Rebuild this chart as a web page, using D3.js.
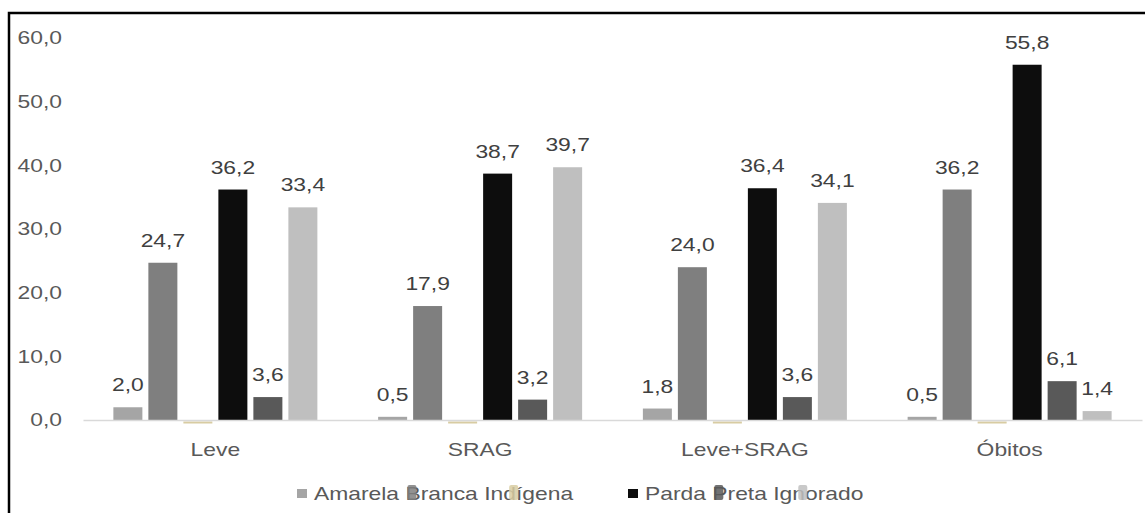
<!DOCTYPE html>
<html>
<head>
<meta charset="utf-8">
<script src="https://cdn.jsdelivr.net/npm/d3@7"></script>
<style>
  html, body { margin: 0; padding: 0; background: #fff; }
  svg { display: block; font-family: "Liberation Sans", Arial, sans-serif; }
</style>
</head>
<body>
<svg id="chart" width="1145" height="513"></svg>
<script>
// Case groups on the x axis
const categories = ["Leve", "SRAG", "Leve+SRAG", "Óbitos"];
// Race/colour series (percent of cases in each group)
const seriesNames = ["Amarela", "Branca", "Indígena", "Parda", "Preta", "Ignorado"];
const amarela  = [2.0, 0.5, 1.8, 0.5];
const branca   = [24.7, 17.9, 24.0, 36.2];
const indigena = [0.0, 0.0, 0.0, 0.0];
const parda    = [36.2, 38.7, 36.4, 55.8];
const preta    = [3.6, 3.2, 3.6, 6.1];
const ignorado = [33.4, 39.7, 34.1, 1.4];
const yTicks   = [0, 10, 20, 30, 40, 50, 60];

const seriesValues = [amarela, branca, indigena, parda, preta, ignorado];
const colors = ["#a5a5a5", "#7f7f7f", "#d8cca2", "#0d0d0d", "#595959", "#bfbfbf"];
const showLabel = [true, true, false, true, true, true];

const fmt = d3.formatLocale({decimal: ",", thousands: ".", grouping: [3], currency: ["R$", ""]}).format(".1f");

const FS = 18;      // font size
const SX = 1.27;    // horizontal text stretch
const textColor = "#595959";

const svg = d3.select("#chart");

// outer frame
svg.append("rect")
  .attr("x", 9).attr("y", 13)
  .attr("width", 1300).attr("height", 700)
  .attr("fill", "#fff").attr("stroke", "#000").attr("stroke-width", 2.5);

const x0 = d3.scaleBand().domain(categories).range([83, 1142]).paddingInner(0).paddingOuter(0);
const groupW = x0.bandwidth();
const barsW = 204;
const x1 = d3.scaleBand().domain(seriesNames)
  .range([(groupW - barsW) / 2, (groupW + barsW) / 2])
  .paddingInner(6 / 35).paddingOuter(0);
const y = d3.scaleLinear().domain([0, 60]).range([420, 38]);

// helper: stretched text anchored at (x, y)
function stext(parent, x, yy, str, anchor, fill) {
  const g = parent.append("g").attr("transform", `translate(${x},${yy})`);
  g.append("text")
    .attr("transform", `scale(${SX},1)`)
    .attr("text-anchor", anchor || "middle")
    .attr("font-size", FS)
    .attr("fill", fill || textColor)
    .text(str);
  return g;
}

// y axis labels
const yAxis = svg.append("g")
  .attr("transform", "translate(62,0)")
  .call(d3.axisLeft(y).tickValues(yTicks).tickFormat(fmt).tickSize(0).tickPadding(0));
yAxis.select(".domain").remove();
yAxis.selectAll("text")
  .attr("font-family", null)
  .attr("font-size", FS)
  .attr("fill", textColor)
  .attr("transform", `scale(${SX},1)`);

// bars
const groups = svg.append("g").selectAll("g")
  .data(categories)
  .join("g")
  .attr("transform", d => `translate(${x0(d)},0)`);

groups.each(function(cat, ci) {
  const g = d3.select(this);
  seriesNames.forEach((s, si) => {
    const v = seriesValues[si][ci];
    const bx = x1(s);
    const bw = x1.bandwidth();
    if (v > 0) {
      g.append("rect")
        .attr("x", bx).attr("width", bw)
        .attr("y", y(v)).attr("height", y(0) - y(v))
        .attr("fill", colors[si]);
    } else {
      // zero-height bars show as a thin strip under the axis
      g.append("rect")
        .attr("x", bx).attr("width", bw)
        .attr("y", y(0) + 1.5).attr("height", 2)
        .attr("fill", colors[si]);
    }
    if (showLabel[si]) {
      stext(g, bx + bw / 2, y(v) - 16, fmt(v), "middle", "#404040");
    }
  });
});

// x axis
const xAxis = svg.append("g")
  .attr("transform", `translate(0,${y(0)})`)
  .call(d3.axisBottom(x0).tickSize(0).tickSizeOuter(0).tickPadding(23));
xAxis.select(".domain").attr("stroke", "#d9d9d9").attr("stroke-width", 1.5);
xAxis.selectAll(".tick text")
  .attr("font-family", null)
  .attr("font-size", FS)
  .attr("fill", textColor)
  .attr("transform", `scale(${SX},1)`);

// legend
const legend = svg.append("g");
const legendY = 500;
const legendRows = [
  {start: 314, names: ["Amarela", "Branca", "Indígena"], idx: [0, 1, 2]},
  {start: 645, names: ["Parda", "Preta", "Ignorado"], idx: [3, 4, 5]}
];
// markers of the later entries sit over a letter of their own label (px from word start)
const markerOffset = [null, 2, 25, null, 2, 25];

legendRows.forEach(row => {
  const txt = legend.append("g").attr("transform", `translate(${row.start},${legendY})`)
    .append("text")
    .attr("transform", `scale(${SX},1)`)
    .attr("font-size", FS)
    .attr("fill", textColor)
    .text(row.names.join(" "));
  const node = txt.node();
  let pos = 0;
  row.names.forEach((n, k) => {
    const si = row.idx[k];
    const startX = row.start + (pos > 0 ? node.getSubStringLength(0, pos) * SX : 0);
    if (k === 0) {
      legend.append("rect")
        .attr("x", startX - 17).attr("y", legendY - 11)
        .attr("width", 10).attr("height", 9)
        .attr("fill", colors[si]);
    } else {
      legend.append("rect")
        .attr("x", startX + markerOffset[si]).attr("y", legendY - 15)
        .attr("width", 9).attr("height", 15)
        .attr("rx", 2)
        .attr("fill", colors[si]).attr("opacity", 0.85);
    }
    pos += n.length + 1;
  });
});
</script>
</body>
</html>
